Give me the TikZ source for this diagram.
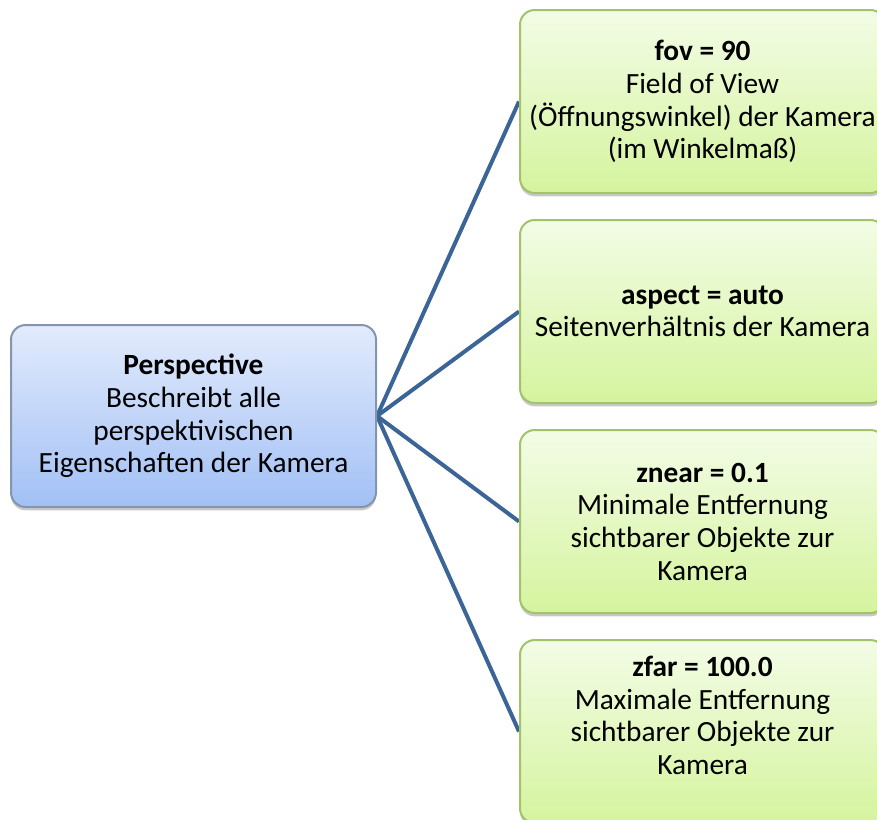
\documentclass[tikz,border=0pt]{standalone}
\usepackage{fontspec}
\setmainfont{Carlito}
\usetikzlibrary{shadows,backgrounds}

\definecolor{linkblue}{HTML}{3B6596}
\definecolor{bluetop}{HTML}{E2EBFC}
\definecolor{bluebot}{HTML}{A2C0F5}
\definecolor{blueedge}{HTML}{8595AE}
\definecolor{greentop}{HTML}{F3FCE6}
\definecolor{greenbot}{HTML}{D5F49E}
\definecolor{greenedge}{HTML}{A3C36A}

\begin{document}
\begin{tikzpicture}[x=0.75pt,y=-0.75pt,
  box/.style={rounded corners=11pt, line width=1.5pt, align=center,
    font=\fontsize{22}{24.5}\selectfont, inner sep=0pt,
    drop shadow={shadow xshift=0pt, shadow yshift=-2.5pt, opacity=0.3, fill=black!70}},
  bluebox/.style={box, draw=blueedge, top color=bluetop, bottom color=bluebot,
    minimum width=273.75pt, minimum height=136.5pt},
  greenbox/.style={box, draw=greenedge, top color=greentop, bottom color=greenbot,
    minimum width=273.75pt, minimum height=137.25pt},
  link/.style={draw=linkblue, line width=3pt}]

\clip (0,0) rectangle (877,819);

% root concept
\node[bluebox] (persp) at (193.5,416)
  {\textbf{Perspective}\\Beschreibt alle\\perspektivischen\\Eigenschaften der Kamera};

% attribute boxes
\node[greenbox] (fov) at (702.5,101.5)
  {\textbf{fov = 90}\\Field of View\\(Öffnungswinkel) der Kamera\\(im Winkelmaß)};
\node[greenbox] (aspect) at (702.5,311.5)
  {\textbf{aspect = auto}\\Seitenverhältnis der Kamera};
\node[greenbox] (znear) at (702.5,521.5)
  {\textbf{znear = 0.1}\\Minimale Entfernung\\sichtbarer Objekte zur\\Kamera};
% trailing empty line lifts the text block inside this box
\node[greenbox] (zfar) at (702.5,731.5)
  {\textbf{zfar = 100.0}\\Maximale Entfernung\\sichtbarer Objekte zur\\Kamera\\\mbox{}};

% connectors behind the boxes
\begin{scope}[on background layer]
  \foreach \t in {fov,aspect,znear,zfar}
    \draw[link] (persp.east) -- (\t.west);
\end{scope}
\end{tikzpicture}
\end{document}
